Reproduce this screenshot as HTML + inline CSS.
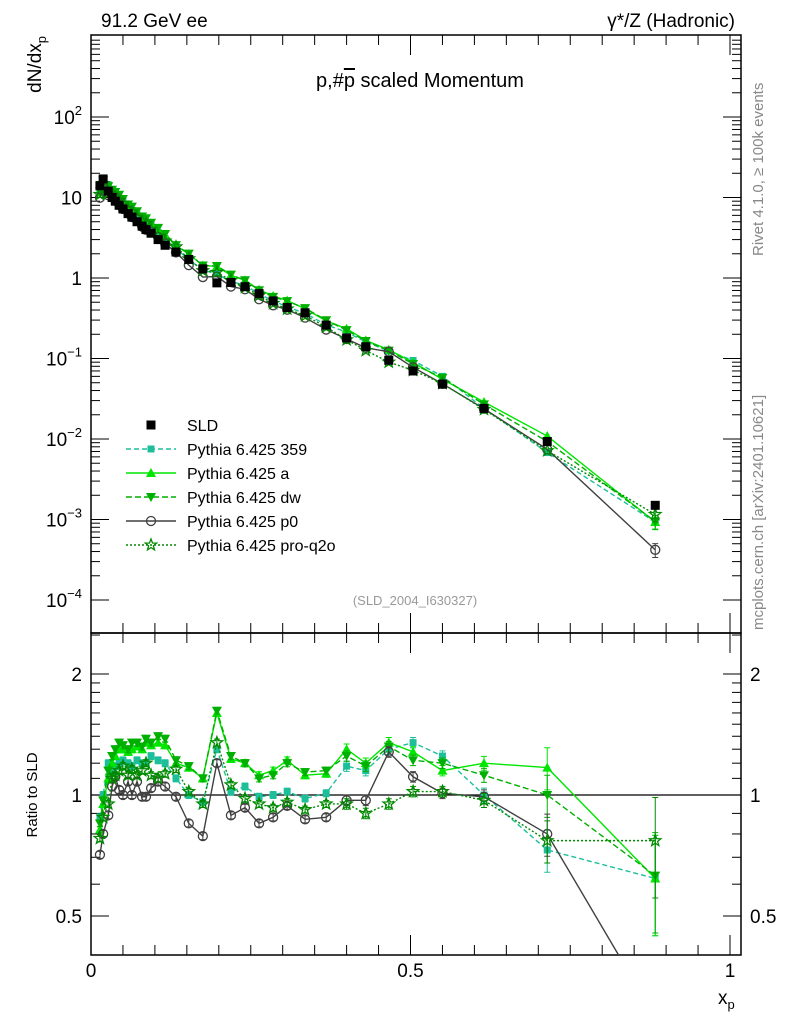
<!DOCTYPE html>
<html><head><meta charset="utf-8"><style>
body{margin:0;background:#fff;font-family:"Liberation Sans",sans-serif}
svg text{font-family:"Liberation Sans","DejaVu Sans",sans-serif}
</style></head><body>
<svg id="c" width="786" height="1024" xmlns="http://www.w3.org/2000/svg"></svg>
<script>
const xs=[0.014,0.019,0.027,0.033,0.038,0.044,0.05,0.058,0.064,0.072,0.080,0.086,0.094,0.105,0.116,0.133,0.153,0.175,0.197,0.219,0.241,0.263,0.285,0.307,0.335,0.368,0.40,0.43,0.466,0.504,0.55,0.615,0.714,0.883];
const sld=[14,17,12,10,9,8,7.2,6.3,5.7,5.0,4.4,4.0,3.6,3.0,2.55,2.1,1.7,1.3,0.87,0.88,0.78,0.64,0.52,0.43,0.37,0.26,0.18,0.14,0.095,0.07,0.048,0.024,0.0093,0.0015];
const relErr=[0.02,0.02,0.02,0.02,0.02,0.02,0.02,0.02,0.02,0.02,0.02,0.02,0.02,0.02,0.02,0.02,0.02,0.02,0.02,0.02,0.02,0.02,0.02,0.02,0.02,0.02,0.03,0.03,0.03,0.03,0.03,0.04,0.12,0.28];
const rP0=[0.71,0.80,0.89,1.05,1.11,1.03,1.0,1.08,1.0,1.08,0.99,0.99,1.04,1.08,1.05,0.99,0.85,0.79,1.20,0.89,0.93,0.85,0.88,0.94,0.87,0.88,0.97,0.97,1.28,1.11,1.01,0.99,0.80,0.28];
const rA=[0.82,0.95,1.1,1.2,1.25,1.3,1.3,1.28,1.3,1.32,1.3,1.35,1.33,1.35,1.33,1.2,1.17,1.1,1.6,1.23,1.2,1.12,1.15,1.22,1.12,1.13,1.3,1.2,1.35,1.28,1.15,1.2,1.17,0.62];
const rDW=[0.85,0.97,1.15,1.25,1.3,1.35,1.33,1.3,1.35,1.35,1.32,1.38,1.35,1.4,1.38,1.22,1.18,1.1,1.62,1.25,1.2,1.1,1.12,1.2,1.14,1.15,1.25,1.18,1.32,1.22,1.2,1.12,1.0,0.63];
const r359=[0.88,1.0,1.2,1.15,1.18,1.2,1.22,1.2,1.18,1.22,1.2,1.2,1.25,1.22,1.2,1.1,1.0,0.96,1.3,1.02,1.05,0.99,1.0,1.02,0.98,1.01,1.18,1.15,1.3,1.35,1.25,1.0,0.73,0.62];
const rQ=[0.78,0.88,0.95,1.1,1.12,1.15,1.18,1.12,1.16,1.12,1.15,1.2,1.12,1.1,1.13,1.16,1.02,0.95,1.35,1.06,0.98,0.95,0.93,0.96,0.92,0.95,0.95,0.9,0.95,1.02,1.02,0.97,0.77,0.77];
const NS="http://www.w3.org/2000/svg",svg=document.getElementById('c');
const X0=91,X1=730,U0=35,U1=633,L1=955;
const px=x=>X0+(X1-X0)*x;
const py=v=>278-80.5*Math.log10(v);
const pr=r=>795-402*Math.log10(r);
function el(t,a,txt){const e=document.createElementNS(NS,t);for(const k in a)e.setAttribute(k,a[k]);if(txt!=null)e.textContent=txt;svg.appendChild(e);return e;}
const cp=el('clipPath',{id:'cu'});const r1=document.createElementNS(NS,'rect');r1.setAttribute('x',X0);r1.setAttribute('y',U0);r1.setAttribute('width',650);r1.setAttribute('height',U1-U0);cp.appendChild(r1);
const cl=el('clipPath',{id:'cl'});const r2=document.createElementNS(NS,'rect');r2.setAttribute('x',X0);r2.setAttribute('y',U1);r2.setAttribute('width',650);r2.setAttribute('height',L1-U1);cl.appendChild(r2);
let f=el('rect',{x:X0,y:U0,width:650,height:U1-U0,fill:'none',stroke:'#000','stroke-width':1.5});

f=el('rect',{x:X0,y:U1,width:650,height:L1-U1,fill:'none',stroke:'#000','stroke-width':1.5});

for(let d=-4;d<=2;d++){for(let m=1;m<10;m++){const v=m*Math.pow(10,d);const y=py(v);if(y<U0||y>U1)continue;const L=m==1?18:9;
el('line',{x1:X0,x2:X0+L,y1:y,y2:y,stroke:'#000'});el('line',{x1:741-L,x2:741,y1:y,y2:y,stroke:'#000'});}}
const ylab=[['10','−4',1e-4],['10','−3',1e-3],['10','−2',1e-2],['10','−1',0.1],['1','',1],['10','',10],['10','2',100]];
ylab.forEach(([b,s,v])=>{const e=el('text',{x:s?82:82,y:py(v)+7,'text-anchor':'end','font-size':19},b);
if(s){const t=document.createElementNS(NS,'tspan');t.setAttribute('dy',-9);t.setAttribute('font-size',13);t.textContent=s;e.appendChild(t);}
});
[0.4,0.5,0.6,0.7,0.8,0.9,1,1.1,1.2,1.3,1.4,1.5,1.6,1.7,1.8,1.9,2,2.5].forEach(r=>{const y=pr(r);if(y<U1||y>L1)return;const L=(r==0.5||r==1||r==2)?18:9;
el('line',{x1:X0,x2:X0+L,y1:y,y2:y,stroke:'#000'});el('line',{x1:741-L,x2:741,y1:y,y2:y,stroke:'#000'});});
[['2',2],['1',1],['0.5',0.5]].forEach(([t,r])=>{let e=el('text',{x:82,y:pr(r)+7,'text-anchor':'end','font-size':19},t);
e=el('text',{x:750,y:pr(r)+7,'font-size':19},t);});
for(let i=0;i<=20;i++){const x=px(i*0.05);const L=i%10==0?20:10;
el('line',{x1:x,x2:x,y1:U1,y2:U1-L,stroke:'#000'});el('line',{x1:x,x2:x,y1:U0,y2:U0+L,stroke:'#000'});
el('line',{x1:x,x2:x,y1:L1,y2:L1-L,stroke:'#000'});el('line',{x1:x,x2:x,y1:U1,y2:U1+L,stroke:'#000'});}
[['0',0],['0.5',0.5],['1',1]].forEach(([t,v])=>{const e=el('text',{x:px(v),y:977,'text-anchor':'middle','font-size':19},t);});
el('line',{x1:X0,x2:741,y1:pr(1),y2:pr(1),stroke:'#000','stroke-width':1.2});
function mk(k,x,y,col){const s=4.5;
 if(k=='sq')return el('rect',{x:x-s,y:y-s,width:2*s,height:2*s,fill:col});
 if(k=='sqs')return el('rect',{x:x-3.5,y:y-3.5,width:7,height:7,fill:col});
 if(k=='tu')return el('polygon',{points:`${x},${y-5} ${x-5},${y+4} ${x+5},${y+4}`,fill:col});
 if(k=='td')return el('polygon',{points:`${x},${y+5} ${x-5},${y-4} ${x+5},${y-4}`,fill:col});
 if(k=='c')return el('circle',{cx:x,cy:y,r:4.5,fill:'none',stroke:col,'stroke-width':1.3});
 if(k=='st'){let p=[];for(let i=0;i<10;i++){const a=-Math.PI/2+i*Math.PI/5,rr=i%2?2.5:6;p.push((x+rr*Math.cos(a)).toFixed(1)+','+(y+rr*Math.sin(a)).toFixed(1));}return el('polygon',{points:p.join(' '),fill:'none',stroke:col,'stroke-width':1.3});}}
function eb(g,x,y1,y2,col){if(Math.abs(y2-y1)<6)return;const l=document.createElementNS(NS,'path');l.setAttribute('d',`M${x},${y1}V${y2}M${x-3},${y1}H${x+3}M${x-3},${y2}H${x+3}`);l.setAttribute('stroke',col);l.setAttribute('fill','none');g.appendChild(l);}
const series=[
 {n:'pythia-359',r:r359,col:'#1dbf9a',dash:'5,3',m:'sqs'},
 {n:'pythia-a',r:rA,col:'#00e600',dash:'',m:'tu'},
 {n:'pythia-dw',r:rDW,col:'#00b000',dash:'6,3',m:'td'},
 {n:'pythia-p0',r:rP0,col:'#404040',dash:'',m:'c'},
 {n:'pythia-pro-q2o',r:rQ,col:'#008a00',dash:'2,2',m:'st'}];
series.forEach(s=>{
 const gu=el('g',{'clip-path':'url(#cu)'});
 const pts=xs.map((x,i)=>[px(x),py(sld[i]*s.r[i])]);
 const pl=document.createElementNS(NS,'polyline');pl.setAttribute('points',pts.map(p=>p.join(',')).join(' '));pl.setAttribute('fill','none');pl.setAttribute('stroke',s.col);pl.setAttribute('stroke-width',1.4);if(s.dash)pl.setAttribute('stroke-dasharray',s.dash);gu.appendChild(pl);
 pts.forEach((p,i)=>{const v=sld[i]*s.r[i],e=relErr[i]*0.7;eb(gu,p[0],py(v*(1+e)),py(v*(1-e)),s.col);const m=mk(s.m,p[0],p[1],s.col);gu.appendChild(m);});
 const gl=el('g',{'clip-path':'url(#cl)'});
 const pts2=xs.map((x,i)=>[px(x),pr(s.r[i])]);
 const pl2=document.createElementNS(NS,'polyline');pl2.setAttribute('points',pts2.map(p=>p.join(',')).join(' '));pl2.setAttribute('fill','none');pl2.setAttribute('stroke',s.col);pl2.setAttribute('stroke-width',1.4);if(s.dash)pl2.setAttribute('stroke-dasharray',s.dash);gl.appendChild(pl2);
 pts2.forEach((p,i)=>{const r=s.r[i],e=relErr[i];eb(gl,p[0],pr(r*(1+e)),pr(r*(1-e)),s.col);const m=mk(s.m,p[0],p[1],s.col);gl.appendChild(m);});
});
const gs=el('g',{});
xs.forEach((x,i)=>{const m=mk('sq',px(x),py(sld[i]),'#000');gs.appendChild(m);});
const leg=[['SLD','sq','#000',''],['Pythia 6.425 359','sqs','#1dbf9a','5,3'],['Pythia 6.425 a','tu','#00e600',''],['Pythia 6.425 dw','td','#00b000','6,3'],['Pythia 6.425 p0','c','#404040',''],['Pythia 6.425 pro-q2o','st','#008a00','2,2']];
leg.forEach(([t,m,c,d],i)=>{const y=425+i*24;
 if(i>0)el('line',{x1:126,x2:176,y1:y,y2:y,stroke:c,'stroke-width':1.4,'stroke-dasharray':d||'none'});
 mk(m,151,y,c);
 const e=el('text',{x:187,y:y+6,'font-size':16},t);});
function T(x,y,s,t,a,name,extra){const e=el('text',Object.assign({x:x,y:y,'font-size':s,'text-anchor':a||'start'},extra||{}),t);return e;}
T(101,27,19,'91.2 GeV ee','start','energy-label');
T(735,27,19,'γ*/Z (Hadronic)','end','process-label');
const tt=T(420,87,20,'p,#','middle','plot-title');const ts=document.createElementNS(NS,'tspan');ts.setAttribute('text-decoration','overline');ts.textContent='p';tt.appendChild(ts);const ts2=document.createElementNS(NS,'tspan');ts2.textContent=' scaled Momentum';tt.appendChild(ts2);
T(415,605,13,'(SLD_2004_I630327)','middle','analysis-id',{fill:'#999'});
const yl=T(0,0,19,'dN/dx','end','y-axis-title',{transform:'translate(41,36) rotate(-90)'});const sb=document.createElementNS(NS,'tspan');sb.setAttribute('font-size',13);sb.setAttribute('dy',5);sb.textContent='p';yl.appendChild(sb);
T(0,0,15,'Ratio to SLD','middle','ratio-axis-title',{transform:'translate(37,795) rotate(-90)'});
const xl=T(718,1004,19,'x','start','x-axis-title');const xs2=document.createElementNS(NS,'tspan');xs2.setAttribute('font-size',13);xs2.setAttribute('dy',5);xs2.textContent='p';xl.appendChild(xs2);
T(0,0,15,'Rivet 4.1.0, ≥ 100k events','start','rivet-label',{transform:'translate(763,256) rotate(-90)',fill:'#888'});
T(0,0,15,'mcplots.cern.ch [arXiv:2401.10621]','start','mcplots-label',{transform:'translate(763,630) rotate(-90)',fill:'#888'});
</script>
</body></html>
